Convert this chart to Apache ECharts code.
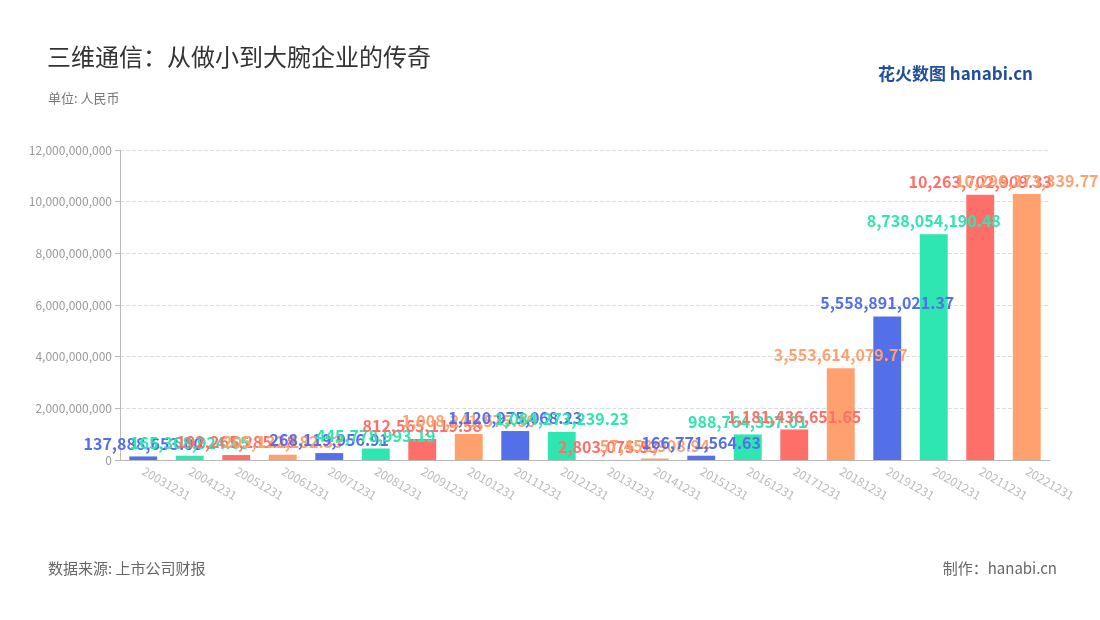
<!DOCTYPE html><html><head><meta charset="utf-8"><script src="https://cdn.jsdelivr.net/npm/echarts@6/dist/echarts.min.js"></script>
<style>body{margin:0}#c{width:1100px;height:620px}</style></head><body><div id="c"></div><script>
const categories=['20031231','20041231','20051231','20061231','20071231','20081231','20091231','20101231','20111231','20121231','20131231','20141231','20151231','20161231','20171231','20181231','20191231','20201231','20211231','20221231'];
const values=[137888653.00,165368924.65,192265285.18,205132182.33,268119956.91,445778993.19,812565119.58,1008241575.80,1120975068.23,1084273239.23,2803075.53,57458908.94,166771564.63,988764397.01,1181436651.65,3553614079.77,5558891021.37,8738054190.48,10263702909.33,10296373339.77];
const colors=['#5470e8','#2ee6b0','#ff6f6a','#ffa16e'];
const ch=echarts.init(document.getElementById('c'));
const font='"Noto Sans CJK SC","Noto Sans",sans-serif';
ch.setOption({
 textStyle:{fontFamily:font},
 title:[{text:'三维通信：从做小到大腕企业的传奇',left:42,top:40,textStyle:{fontSize:24,fontWeight:'normal',color:'#333',fontFamily:font}},
  {text:'单位: 人民币',left:43,top:87,textStyle:{fontSize:13,fontWeight:'normal',color:'#777'}},
  {text:'数据来源: 上市公司财报',left:43,top:556,textStyle:{fontSize:15,fontWeight:'normal',color:'#666'}},
  {text:'制作：hanabi.cn',right:38,top:556,textStyle:{fontSize:15,fontWeight:'normal',color:'#666'}},
  {text:'花火数图 hanabi.cn',right:62,top:60,textStyle:{fontSize:17,fontWeight:'bold',color:'#1f4e9c'}}],
 grid:{left:120,right:50,top:150,bottom:160},
 xAxis:{type:'category',data:categories,axisLine:{lineStyle:{color:'#bbb'}},
  axisLabel:{rotate:-30,color:'#bbb',fontSize:12,margin:10}},
 yAxis:{type:'value',min:0,max:12000000000,interval:2000000000,axisLine:{show:true,lineStyle:{color:'#bbb'}},axisTick:{show:true},
  axisLabel:{color:'#999',fontSize:12,formatter:v=>v.toLocaleString('en-US')},splitLine:{lineStyle:{type:'dashed',color:'#ddd'}}},
 series:[{type:'bar',data:values.map((v,i)=>({value:v,itemStyle:{color:colors[i%4]},label:{color:colors[i%4]}})),barWidth:'60%',
  label:{show:true,position:'top',fontSize:16,fontWeight:'bold',formatter:p=>p.value.toLocaleString('en-US',{minimumFractionDigits:2,maximumFractionDigits:2})}}]
});
</script></body></html>
